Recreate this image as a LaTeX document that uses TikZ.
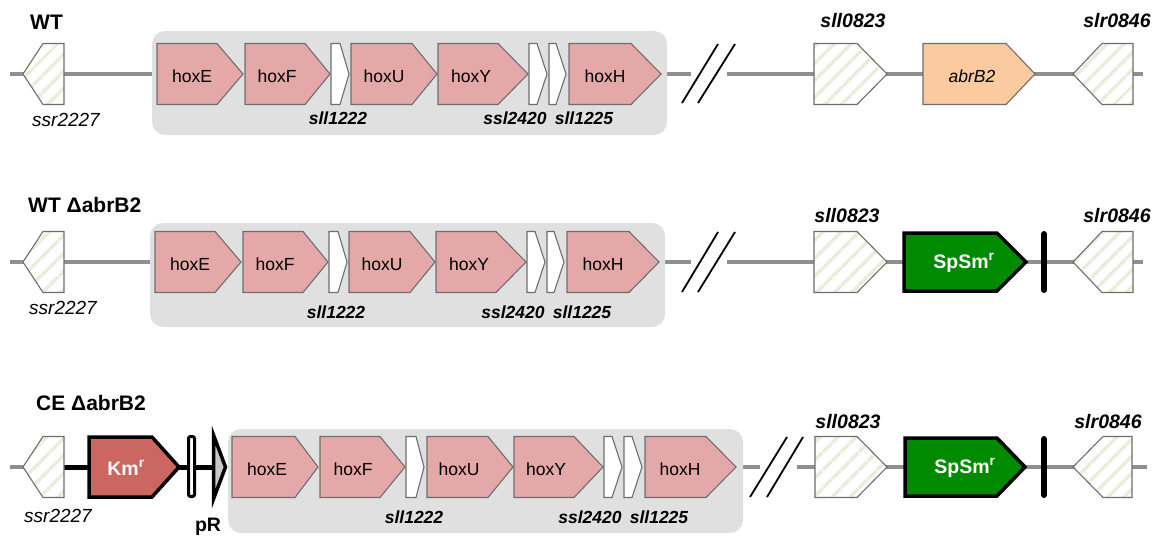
\documentclass[tikz,border=0pt]{standalone}
\usepackage{fontspec}
\setmainfont{Liberation Sans}
\usetikzlibrary{patterns.meta}
\definecolor{hoxpink}{HTML}{E3A8A7}
\definecolor{geneline}{HTML}{6E6E6E}
\definecolor{boxgray}{HTML}{E0E0E0}
\definecolor{axisgray}{HTML}{8F8F8F}
\definecolor{peach}{HTML}{FBCB9F}
\definecolor{spgreen}{HTML}{008A00}
\definecolor{kmred}{HTML}{CC6660}
\definecolor{stripe}{HTML}{ECECDC}
\definecolor{prgray}{HTML}{C8C8C8}
\newcommand\gfwd[5]{\path[#1] (#2,#5-30.5) -- (#3,#5-30.5) -- (#4,#5) -- (#3,#5+30.5) -- (#2,#5+30.5) -- cycle;}
\newcommand\grev[5]{\path[#1] (#4,#5-30.5) -- (#3,#5-30.5) -- (#2,#5) -- (#3,#5+30.5) -- (#4,#5+30.5) -- cycle;}
\tikzset{
  gene/.style={draw=geneline, line width=1.1pt, line join=miter},
  hox/.style={gene, fill=hoxpink},
  orf/.style={gene, fill=white},
  hatched/.style={gene, preaction={fill=white}, pattern={Lines[angle=45,distance=13pt,line width=4pt]}, pattern color=stripe},
  abr/.style={gene, fill=peach},
  marker/.style={draw=black, line width=3.5pt, line join=miter},
  axisline/.style={draw=axisgray, line width=3.5pt},
  blackline/.style={draw=black, line width=5pt},
  slash/.style={draw=black, line width=1.8pt},
  term/.style={draw=black, line width=6pt, line cap=round},
  regbox/.style={fill=boxgray, rounded corners=13pt},
  genetxt/.style={font=\fontsize{17.5}{19}\selectfont, inner sep=0pt},
  markertxt/.style={font=\fontsize{19.5}{21}\bfseries, text=white, inner sep=0pt},
  sublbl/.style={font=\fontsize{17.5}{19}\bfseries\itshape, inner sep=0pt},
  toplbl/.style={font=\fontsize{19.5}{21}\bfseries\itshape, inner sep=0pt},
  ssrlbl/.style={font=\fontsize{19}{20}\itshape, inner sep=0pt},
  title/.style={font=\fontsize{21}{23}\bfseries, inner sep=0pt, anchor=west},
}
\begin{document}
\begin{tikzpicture}[x=1pt,y=-1pt]
\useasboundingbox (0,0) rectangle (1155,536);
%% ================= Row 1 : WT =================
\path[axisline] (10,74) -- (152,74);
\path[axisline] (667,74) -- (691,74);
\path[axisline] (727,74) -- (1143,74);
\path[regbox] (152,31) rectangle (667,135);
\grev{hatched}{23}{43}{64}{74}
\gfwd{hox}{157}{217}{243}{74}
\gfwd{hox}{245}{305}{330}{74}
\gfwd{orf}{331}{340}{349}{74}
\gfwd{hox}{351}{412}{437}{74}
\gfwd{hox}{438}{498}{528}{74}
\gfwd{orf}{529}{537}{547}{74}
\gfwd{orf}{549}{556}{566}{74}
\gfwd{hox}{569}{631}{661}{74}
\path[slash] (682,103) -- (718,44);
\path[slash] (698,103) -- (735,44);
\gfwd{hatched}{814}{857}{887}{74}
\gfwd{abr}{923}{1006}{1035}{74}
\grev{hatched}{1073}{1102}{1133}{74}
\node[title] (t1) at (30,22) {WT};
\node[genetxt] (a1) at (192,76) {hoxE};
\node[genetxt] (b1) at (277,76) {hoxF};
\node[genetxt] (c1) at (384,76) {hoxU};
\node[genetxt] (d1) at (471,76) {hoxY};
\node[genetxt] (e1) at (605,76) {hoxH};
\node[genetxt, font=\fontsize{17.5}{19}\itshape] (f1) at (972,76) {abrB2};
\node[ssrlbl] (g1) at (66,120) {ssr2227};
\node[sublbl] (h1) at (338,118) {sll1222};
\node[sublbl] (i1) at (515,118) {ssl2420};
\node[sublbl] (j1) at (584,118) {sll1225};
\node[toplbl] (k1) at (853,21) {sll0823};
\node[toplbl] (l1) at (1117,21) {slr0846};
%% ================= Row 2 : WT delta abrB2 =================
\path[axisline] (10,262) -- (150,262);
\path[axisline] (665,262) -- (691,262);
\path[axisline] (727,262) -- (1143,262);
\path[regbox] (150,223) rectangle (665,327);
\grev{hatched}{23}{43}{64}{262}
\gfwd{hox}{155}{215}{241}{262}
\gfwd{hox}{243}{303}{328}{262}
\gfwd{orf}{329}{338}{347}{262}
\gfwd{hox}{349}{410}{435}{262}
\gfwd{hox}{436}{496}{526}{262}
\gfwd{orf}{527}{535}{545}{262}
\gfwd{orf}{547}{554}{564}{262}
\gfwd{hox}{567}{629}{659}{262}
\path[slash] (682,292) -- (718,232);
\path[slash] (698,292) -- (735,232);
\gfwd{hatched}{814}{857}{887}{262}
\path[marker, fill=spgreen] (904,233) -- (997,233) -- (1026,262) -- (997,291) -- (904,291) -- cycle;
\path[term] (1044,234) -- (1044,290);
\grev{hatched}{1073}{1102}{1133}{262}
\node[title] (t2) at (28,205) {WT ΔabrB2};
\node[genetxt] (a2) at (190,264) {hoxE};
\node[genetxt] (b2) at (275,264) {hoxF};
\node[genetxt] (c2) at (382,264) {hoxU};
\node[genetxt] (d2) at (469,264) {hoxY};
\node[genetxt] (e2) at (603,264) {hoxH};
\node[markertxt] (f2) at (964,263) {SpSm\textsuperscript{r}};
\node[ssrlbl] (g2) at (63,308) {ssr2227};
\node[sublbl] (h2) at (336,312) {sll1222};
\node[sublbl] (i2) at (513,312) {ssl2420};
\node[sublbl] (j2) at (582,312) {sll1225};
\node[toplbl] (k2) at (847,216) {sll0823};
\node[toplbl] (l2) at (1117,216) {slr0846};
%% ================= Row 3 : CE delta abrB2 =================
\path[axisline] (10,467) -- (30,467);
\path[blackline] (62,467) -- (90,467);
\path[blackline] (178,467) -- (214,467);
\path[axisline] (743,467) -- (760,467);
\path[axisline] (797,467) -- (1147,467);
\path[regbox] (228,429) rectangle (743,533);
\grev{hatched}{23}{43}{64}{467}
\path[marker, fill=kmred] (89,437) -- (152,437) -- (179,467) -- (152,497) -- (89,497) -- cycle;
\path[draw=black, line width=3pt, fill=white, rounded corners=2pt] (188.5,436.5) rectangle (194.5,496.5);
\path[marker, fill=prgray] (213.5,435) -- (225.5,467) -- (213.5,499) -- cycle;
\gfwd{hox}{232}{295}{318}{467}
\gfwd{hox}{320}{380}{405}{467}
\gfwd{orf}{406}{416}{424}{467}
\gfwd{hox}{427}{488}{513}{467}
\gfwd{hox}{514}{574}{603}{467}
\gfwd{orf}{604}{612}{622}{467}
\gfwd{orf}{624}{632}{642}{467}
\gfwd{hox}{645}{706}{736}{467}
\path[slash] (750,497) -- (787,437);
\path[slash] (767,497) -- (803,437);
\gfwd{hatched}{815}{857}{887}{467}
\path[marker, fill=spgreen] (905,438) -- (997,438) -- (1025,467) -- (997,496) -- (905,496) -- cycle;
\path[term] (1044,439) -- (1044,495);
\grev{hatched}{1073}{1103}{1132}{467}
\node[title] (t3) at (36,403) {CE ΔabrB2};
\node[markertxt] (m3) at (126,468) {Km\textsuperscript{r}};
\node[genetxt] (a3) at (267,469) {hoxE};
\node[genetxt] (b3) at (353,469) {hoxF};
\node[genetxt] (c3) at (459,469) {hoxU};
\node[genetxt] (d3) at (546,469) {hoxY};
\node[genetxt] (e3) at (680,469) {hoxH};
\node[markertxt] (f3) at (965,468) {SpSm\textsuperscript{r}};
\node[ssrlbl] (g3) at (58,516) {ssr2227};
\node[font=\fontsize{19.5}{21}\bfseries, inner sep=0pt] (p3) at (208,527) {pR};
\node[sublbl] (h3) at (414,517) {sll1222};
\node[sublbl] (i3) at (590,517) {ssl2420};
\node[sublbl] (j3) at (659,517) {sll1225};
\node[toplbl] (k3) at (848,422) {sll0823};
\node[toplbl] (l3) at (1108,422) {slr0846};
\end{tikzpicture}
\end{document}
